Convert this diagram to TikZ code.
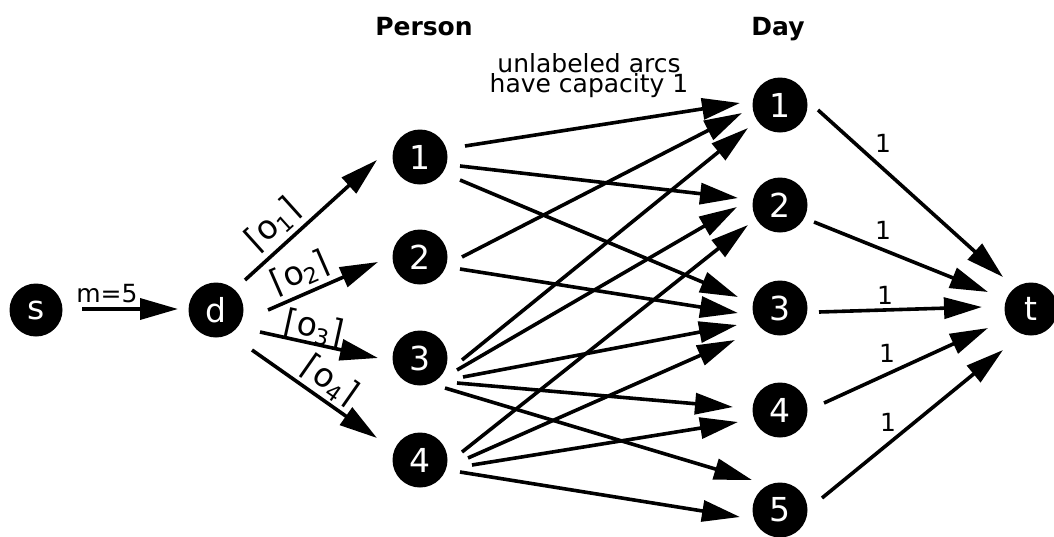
\documentclass[tikz,border=0pt]{standalone}
\usepackage{fontspec}
\setmainfont{DejaVu Sans}
\usetikzlibrary{arrows.meta}

\tikzset{
  vertex/.style={circle, fill=black, text=white, minimum size=55pt, inner sep=0pt,
                 font=\fontsize{33}{33}\selectfont},
  endvertex/.style={vertex, minimum size=53pt},
  arc/.style={line width=3.6pt, -{Triangle[length=38pt,width=21pt]}},
  lbl/.style={font=\fontsize{25}{25}\selectfont, inner sep=0pt},
  head/.style={font=\fontsize{25}{25}\selectfont\bfseries, inner sep=0pt},
  bound/.style={font=\fontsize{33}{33}\selectfont, inner sep=0pt}
}
\newcommand\sub[1]{\raisebox{-0.3ex}{\fontsize{22}{22}\selectfont #1}}

\begin{document}
\begin{tikzpicture}[x=1pt,y=-1pt]
\useasboundingbox (0,0) rectangle (1054,536);

% column headings and note
\node[head, anchor=base] (hp) at (424,35) {Person};
\node[head, anchor=base] (hd) at (778,35) {Day};
\node[lbl, align=center, anchor=base, font=\fontsize{25}{20}\selectfont] (note) at (589,92)
  {unlabeled arcs\\have capacity 1};

% vertices
\node[endvertex] (s) at (36,310) {s};
\node[vertex] (d) at (216,310) {d};
\node[vertex] (p1) at (420,157) {1};
\node[vertex] (p2) at (420,257) {2};
\node[vertex] (p3) at (420,358) {3};
\node[vertex] (p4) at (420,460) {4};
\node[vertex] (d1) at (780,105) {1};
\node[vertex] (d2) at (780,205) {2};
\node[vertex] (d3) at (780,308) {3};
\node[vertex] (d4) at (780,410) {4};
\node[vertex] (d5) at (780,510) {5};
\node[endvertex] (t) at (1031,309) {t};

% source to dispatcher
\draw[arc] ([shift={(46,-1)}]s.center) -- ([shift={(-38,-1)}]d.center);
\node[lbl, anchor=base] (m) at (107,302) {m=5};

% dispatcher to persons
\draw[arc] ([shift={(29,-30)}]d.center) -- ([shift={(-43,3)}]p1.center);
\draw[arc] ([shift={(52,0)}]d.center)   -- ([shift={(-42,5)}]p2.center);
\draw[arc] ([shift={(44,22)}]d.center)  -- ([shift={(-42,0)}]p3.center);
\draw[arc] ([shift={(36,40)}]d.center)  -- ([shift={(-43,-22)}]p4.center);
\node[bound, rotate=42]  (o1) at (273,225) {⌈o\sub{1}⌉};
\node[bound, rotate=23.6] (o2) at (300,273) {⌈o\sub{2}⌉};
\node[bound, rotate=-12.4] (o3) at (314,328) {⌈o\sub{3}⌉};
\node[bound, rotate=-35] (o4) at (330,381) {⌈o\sub{4}⌉};

% persons to days
\draw[arc] ([shift={(45,-11)}]p1.center) -- ([shift={(-40,-2)}]d1.center);
\draw[arc] ([shift={(40,9)}]p1.center)   -- ([shift={(-42,-7)}]d2.center);
\draw[arc] ([shift={(40,23)}]p1.center)  -- ([shift={(-42,-11)}]d3.center);
\draw[arc] ([shift={(42,0)}]p2.center)   -- ([shift={(-38,8)}]d1.center);
\draw[arc] ([shift={(40,12)}]p2.center)  -- ([shift={(-42,5)}]d3.center);
\draw[arc] ([shift={(42,2)}]p3.center)   -- ([shift={(-32,23)}]d1.center);
\draw[arc] ([shift={(37,12)}]p3.center)  -- ([shift={(-43,2)}]d2.center);
\draw[arc] ([shift={(43,19)}]p3.center)  -- ([shift={(-43,17)}]d3.center);
\draw[arc] ([shift={(37,25)}]p3.center)  -- ([shift={(-47,-3)}]d4.center);
\draw[arc] ([shift={(25,30)}]p3.center)  -- ([shift={(-28,-30)}]d5.center);
\draw[arc] ([shift={(42,-8)}]p4.center)  -- ([shift={(-32,20)}]d2.center);
\draw[arc] ([shift={(48,-2)}]p4.center)  -- ([shift={(-45,32)}]d3.center);
\draw[arc] ([shift={(52,5)}]p4.center)   -- ([shift={(-42,12)}]d4.center);
\draw[arc] ([shift={(40,12)}]p4.center)  -- ([shift={(-40,7)}]d5.center);

% days to sink
\draw[arc] ([shift={(38,5)}]d1.center)   -- ([shift={(-28,-32)}]t.center);
\draw[arc] ([shift={(34,17)}]d2.center)  -- ([shift={(-43,-17)}]t.center);
\draw[arc] ([shift={(39,4)}]d3.center)   -- ([shift={(-49,-2)}]t.center);
\draw[arc] ([shift={(44,-7)}]d4.center)  -- ([shift={(-43,19)}]t.center);
\draw[arc] ([shift={(42,-12)}]d5.center) -- ([shift={(-28,41)}]t.center);
\node[lbl] (c1) at (883,143) {1};
\node[lbl] (c2) at (883,230) {1};
\node[lbl] (c3) at (885,295) {1};
\node[lbl] (c4) at (887,353) {1};
\node[lbl] (c5) at (888,422) {1};
\end{tikzpicture}
\end{document}
